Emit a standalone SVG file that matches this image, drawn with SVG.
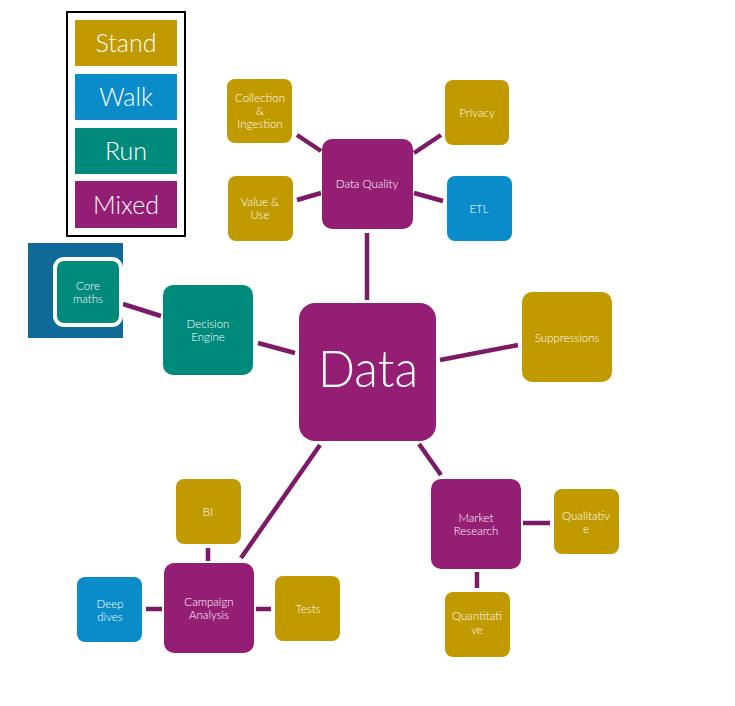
<svg xmlns="http://www.w3.org/2000/svg" width="735" height="706" viewBox="0 0 735 706">
<style>
.gold{fill:#c19a00}
.blue{fill:#0a8cca}
.teal{fill:#008a7b}
.purple{fill:#951e75}
.t{fill:#ffffff;font-family:"Lato","Liberation Sans",sans-serif;font-weight:300;font-size:11.5px;text-anchor:middle}
.lg{fill:#ffffff;font-family:"Lato","Liberation Sans",sans-serif;font-weight:300;font-size:25px;text-anchor:middle}
.c{stroke:#7d1a66;stroke-width:4.5;fill:none}
</style>
<rect width="735" height="706" fill="#ffffff"/>
<g id="legend">
<rect x="67" y="12" width="118" height="224" fill="#ffffff" stroke="#000000" stroke-width="2"/>
<rect class="gold" x="75" y="20" width="102" height="46"/>
<text class="lg" x="126" y="52">Stand</text>
<rect class="blue" x="75" y="74" width="102" height="46"/>
<text class="lg" x="126" y="106">Walk</text>
<rect class="teal" x="75" y="128" width="102" height="46"/>
<text class="lg" x="126" y="160">Run</text>
<rect class="purple" x="75" y="181" width="102" height="47"/>
<text class="lg" x="126" y="214">Mixed</text>
</g>
<g id="connectors">
<line class="c" x1="297" y1="135" x2="321" y2="151"/>
<line class="c" x1="297" y1="200" x2="321" y2="193"/>
<line class="c" x1="414" y1="153" x2="441" y2="135"/>
<line class="c" x1="414" y1="193" x2="443" y2="201"/>
<line class="c" x1="367" y1="233" x2="367" y2="300"/>
<line class="c" x1="123" y1="304" x2="161" y2="316"/>
<line class="c" x1="258" y1="343" x2="295" y2="353"/>
<line class="c" x1="440" y1="360" x2="518" y2="345"/>
<line class="c" x1="419" y1="444" x2="441" y2="475"/>
<line class="c" x1="523" y1="523" x2="550" y2="523"/>
<line class="c" x1="477" y1="572" x2="477" y2="588"/>
<line class="c" x1="320" y1="445" x2="241" y2="558"/>
<line class="c" x1="208" y1="548" x2="208" y2="561"/>
<line class="c" x1="146" y1="609" x2="162" y2="609"/>
<line class="c" x1="256" y1="609" x2="271" y2="609"/>
</g>
<g id="data">
<rect class="purple" x="299" y="303" width="137" height="138" rx="16"/>
<text x="368" y="387" fill="#ffffff" font-family="Lato, 'Liberation Sans', sans-serif" font-weight="300" font-size="52" text-anchor="middle" textLength="100" lengthAdjust="spacingAndGlyphs">Data</text>
</g>
<g id="data-quality">
<rect class="purple" x="322" y="139" width="91" height="90" rx="10"/>
<text class="t" x="367" y="188">Data Quality</text>
</g>
<g id="collection">
<rect class="gold" x="227" y="79" width="65" height="64" rx="8"/>
<text class="t" x="260" y="102">Collection</text>
<text class="t" x="260" y="115">&amp;</text>
<text class="t" x="260" y="128">Ingestion</text>
</g>
<g id="value-use">
<rect class="gold" x="228" y="176" width="65" height="65" rx="8"/>
<text class="t" x="260" y="206">Value &amp;</text>
<text class="t" x="260" y="219">Use</text>
</g>
<g id="privacy">
<rect class="gold" x="445" y="80" width="64" height="65" rx="8"/>
<text class="t" x="477" y="117">Privacy</text>
</g>
<g id="etl">
<rect class="blue" x="447" y="176" width="65" height="65" rx="8"/>
<text class="t" x="479" y="213">ETL</text>
</g>
<g id="core-maths">
<rect x="28" y="243" width="95" height="95" fill="#106a98"/>
<rect x="55" y="259" width="66" height="66" rx="9" fill="#008a7b" stroke="#ffffff" stroke-width="4"/>
<text class="t" x="88" y="290">Core</text>
<text class="t" x="88" y="303">maths</text>
</g>
<g id="decision-engine">
<rect class="teal" x="163" y="285" width="90" height="90" rx="10"/>
<text class="t" x="208" y="328">Decision</text>
<text class="t" x="208" y="341">Engine</text>
</g>
<g id="suppressions">
<rect class="gold" x="522" y="292" width="90" height="90" rx="10"/>
<text class="t" x="567" y="342">Suppressions</text>
</g>
<g id="market-research">
<rect class="purple" x="431" y="479" width="90" height="90" rx="10"/>
<text class="t" x="476" y="522">Market</text>
<text class="t" x="476" y="535">Research</text>
</g>
<g id="qualitative">
<rect class="gold" x="554" y="489" width="65" height="65" rx="8"/>
<text class="t" x="586" y="520">Qualitativ</text>
<text class="t" x="586" y="533">e</text>
</g>
<g id="quantitative">
<rect class="gold" x="445" y="592" width="65" height="65" rx="8"/>
<text class="t" x="477" y="620">Quantitati</text>
<text class="t" x="477" y="634">ve</text>
</g>
<g id="campaign-analysis">
<rect class="purple" x="164" y="563" width="90" height="90" rx="10"/>
<text class="t" x="209" y="606">Campaign</text>
<text class="t" x="209" y="619">Analysis</text>
</g>
<g id="bi">
<rect class="gold" x="176" y="479" width="65" height="65" rx="8"/>
<text class="t" x="208" y="516">BI</text>
</g>
<g id="deep-dives">
<rect class="blue" x="77" y="577" width="65" height="65" rx="8"/>
<text class="t" x="110" y="608">Deep</text>
<text class="t" x="110" y="621">dives</text>
</g>
<g id="tests">
<rect class="gold" x="275" y="576" width="65" height="65" rx="8"/>
<text class="t" x="308" y="613">Tests</text>
</g>
</svg>
